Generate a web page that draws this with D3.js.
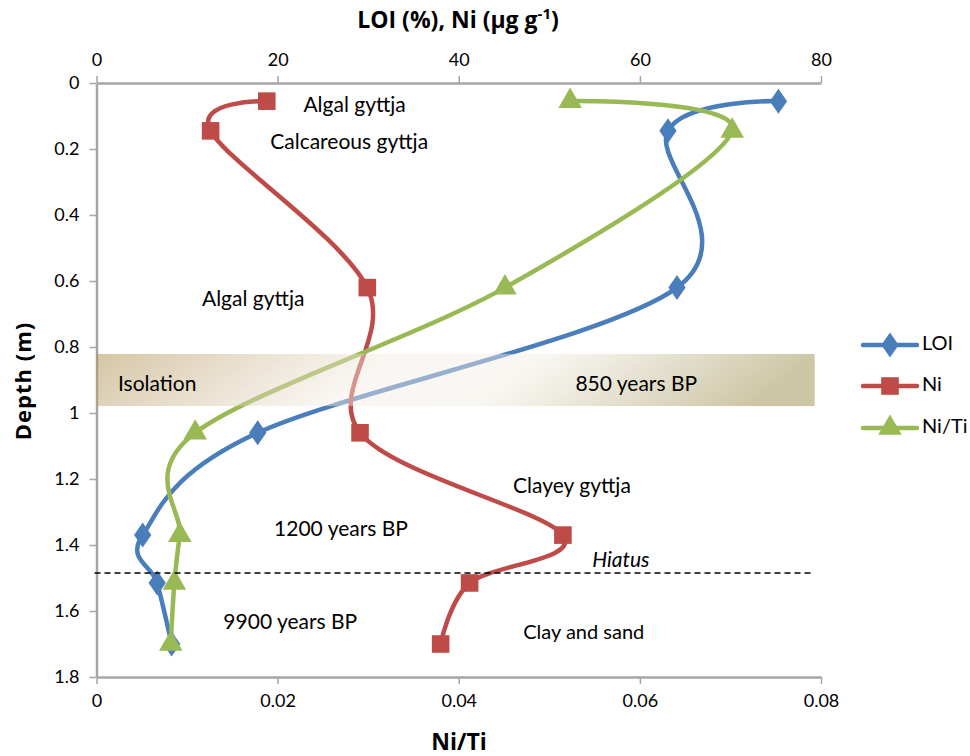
<!DOCTYPE html>
<html>
<head>
<meta charset="utf-8">
<script src="https://cdn.jsdelivr.net/npm/d3@7"></script>
<style>
  body { margin: 0; background: #fff; }
  svg { font-family: Lato, "Open Sans", sans-serif; }
</style>
</head>
<body>
<svg id="chart" width="970" height="756"></svg>
<script>
// ---- data ----
const depths = [0.055, 0.145, 0.62, 1.06, 1.37, 1.515, 1.70];
const loi    = [75.3, 63.1, 64.1, 17.8, 5.1, 6.7, 8.3];
const ni     = [18.8, 12.6, 29.9, 29.1, 51.5, 41.2, 38.0];
const niTi   = [0.0523, 0.0702, 0.0451, 0.0109, 0.0092, 0.0086, 0.0082];
const topTicks = [0, 20, 40, 60, 80];
const bottomTicks = [0, 0.02, 0.04, 0.06, 0.08];
const depthTicks = [0, 0.2, 0.4, 0.6, 0.8, 1, 1.2, 1.4, 1.6, 1.8];
const seriesNames = ["LOI", "Ni", "Ni/Ti"];
const seriesColors = ["#4a7ebb", "#be4b48", "#98b954"];
const bandDepths = [0.821, 0.979];
const bandRange = [0, 79.3];
const hiatusDepth = 1.485;
const hiatusRange = [0, 79];
const annotations = [
  {text: "Algal gyttja", v: 28.5, d: 0.072, fs: 21},
  {text: "Calcareous gyttja", v: 27.9, d: 0.185, fs: 21},
  {text: "Algal gyttja", v: 17.3, d: 0.66, fs: 21},
  {text: "Isolation", v: 6.7, d: 0.917, fs: 21},
  {text: "850 years BP", v: 59.6, d: 0.917, fs: 21},
  {text: "Clayey gyttja", v: 52.5, d: 1.227, fs: 21},
  {text: "1200 years BP", v: 27, d: 1.357, fs: 21},
  {text: "9900 years BP", v: 21.4, d: 1.637, fs: 21},
  {text: "Clay and sand", v: 53.8, d: 1.668, fs: 20}
];

// ---- layout ----
const svg = d3.select("#chart");
const L = 96.5, R = 821, T = 83, B = 677;
const x = d3.scaleLinear().domain([0, 80]).range([L, R]);
const x2 = d3.scaleLinear().domain([0, 0.08]).range([L, R]);
const y = d3.scaleLinear().domain([0, 1.8]).range([T, B]);
const axisColor = "#a6a6a6";

// ---- axes ----
function styleAxis(g) {
  g.selectAll(".domain").attr("stroke", axisColor).attr("stroke-width", 2.5);
  g.selectAll(".tick line").attr("stroke", axisColor).attr("stroke-width", 1.5);
  g.selectAll(".tick text").attr("fill", "#000").style("font-size", "18px")
    .style("font-family", "Lato, 'Open Sans', sans-serif");
}
const gTop = svg.append("g").attr("transform", `translate(0,${T})`)
  .call(d3.axisTop(x).tickValues(topTicks).tickSize(7).tickSizeOuter(0).tickPadding(10).tickFormat(d3.format("d")));
styleAxis(gTop);
const gBot = svg.append("g").attr("transform", `translate(0,${B})`)
  .call(d3.axisBottom(x2).tickValues(bottomTicks).tickSize(7).tickSizeOuter(0).tickPadding(10)
    .tickFormat(d => d === 0 ? "0" : d3.format(".2f")(d)));
styleAxis(gBot);
const gLeft = svg.append("g").attr("transform", `translate(${L},0)`)
  .call(d3.axisLeft(y).tickValues(depthTicks).tickSize(7).tickSizeOuter(0).tickPadding(10)
    .tickFormat(d => d3.format("~g")(d)));
styleAxis(gLeft);

// ---- titles ----
const titleFont = "'Open Sans', Lato, sans-serif";
const topTitle = svg.append("text").attr("x", 458).attr("y", 28).attr("text-anchor", "middle")
  .style("font-family", titleFont).style("font-size", "23px").style("font-weight", "bold");
topTitle.append("tspan").text("LOI (%), Ni (µg g");
topTitle.append("tspan").attr("dy", -9).style("font-size", "15px").text("-1");
topTitle.append("tspan").attr("dy", 9).text(")");
svg.append("text").attr("x", 459).attr("y", 750).attr("text-anchor", "middle")
  .style("font-family", titleFont).style("font-size", "23px").style("font-weight", "bold").text("Ni/Ti");
svg.append("text").attr("transform", "translate(31,381) rotate(-90)").attr("text-anchor", "middle")
  .style("font-family", titleFont).style("font-size", "22px").style("font-weight", "bold")
  .style("letter-spacing", "1px").text("Depth (m)");

// ---- series ----
const line = d3.line().curve(d3.curveCatmullRom.alpha(0));
const series = [
  {vals: loi, sx: x},
  {vals: ni, sx: x},
  {vals: niTi, sx: x2}
];
const symbols = [d3.symbolDiamond, d3.symbolSquare, d3.symbolTriangle];
const symSizes = [180, 310, 240];
series.forEach((s, i) => {
  const pts = depths.map((d, j) => [s.sx(s.vals[j]), y(d)]);
  svg.append("path").attr("d", line(pts)).attr("fill", "none")
    .attr("stroke", seriesColors[i]).attr("stroke-width", 4.5).attr("stroke-linecap", "round");
});
series.forEach((s, i) => {
  depths.forEach((d, j) => {
    svg.append("path")
      .attr("d", d3.symbol().type(symbols[i]).size(symSizes[i])())
      .attr("transform", `translate(${s.sx(s.vals[j])},${y(d)})` + (i === 0 ? " scale(1.2,1)" : ""))
      .attr("fill", seriesColors[i]);
  });
});

// ---- isolation band ----
const defs = svg.append("defs");
const grad = defs.append("linearGradient").attr("id", "bandGrad")
  .attr("x1", "0%").attr("x2", "100%").attr("y1", "0%").attr("y2", "10%");
grad.append("stop").attr("offset", "0%").attr("stop-color", "rgb(170,140,75)").attr("stop-opacity", 0.5);
grad.append("stop").attr("offset", "42%").attr("stop-color", "rgb(245,238,230)").attr("stop-opacity", 0.45);
grad.append("stop").attr("offset", "62%").attr("stop-color", "rgb(240,236,225)").attr("stop-opacity", 0.45);
grad.append("stop").attr("offset", "100%").attr("stop-color", "rgb(155,140,75)").attr("stop-opacity", 0.5);
svg.append("rect")
  .attr("x", x(bandRange[0])).attr("width", x(bandRange[1]) - x(bandRange[0]))
  .attr("y", y(bandDepths[0])).attr("height", y(bandDepths[1]) - y(bandDepths[0]))
  .attr("fill", "url(#bandGrad)");

// ---- hiatus ----
svg.append("line")
  .attr("x1", x(hiatusRange[0]) - 2).attr("x2", x(hiatusRange[1]))
  .attr("y1", y(hiatusDepth)).attr("y2", y(hiatusDepth))
  .attr("stroke", "#000").attr("stroke-width", 1.5).attr("stroke-dasharray", "6,4");
svg.append("text").attr("x", x(57.9)).attr("y", y(hiatusDepth) - 6).attr("text-anchor", "middle")
  .style("font-size", "21px").style("font-style", "italic").text("Hiatus");

// ---- annotations ----
annotations.forEach(a => {
  svg.append("text").attr("x", x(a.v)).attr("y", y(a.d)).attr("text-anchor", "middle")
    .attr("dominant-baseline", "middle").style("font-size", a.fs + "px").text(a.text);
});

// ---- legend ----
const legY = [345, 386, 428];
seriesNames.forEach((n, i) => {
  const g = svg.append("g");
  g.append("line").attr("x1", 863).attr("x2", 917).attr("y1", legY[i]).attr("y2", legY[i])
    .attr("stroke", seriesColors[i]).attr("stroke-width", 4.5).attr("stroke-linecap", "round");
  g.append("path").attr("d", d3.symbol().type(symbols[i]).size(symSizes[i])())
    .attr("transform", `translate(890,${legY[i]})` + (i === 0 ? " scale(1.2,1)" : ""))
    .attr("fill", seriesColors[i]);
  g.append("text").attr("x", 922).attr("y", legY[i]).attr("dominant-baseline", "middle")
    .style("font-size", "20px").text(n);
});
</script>
</body>
</html>
